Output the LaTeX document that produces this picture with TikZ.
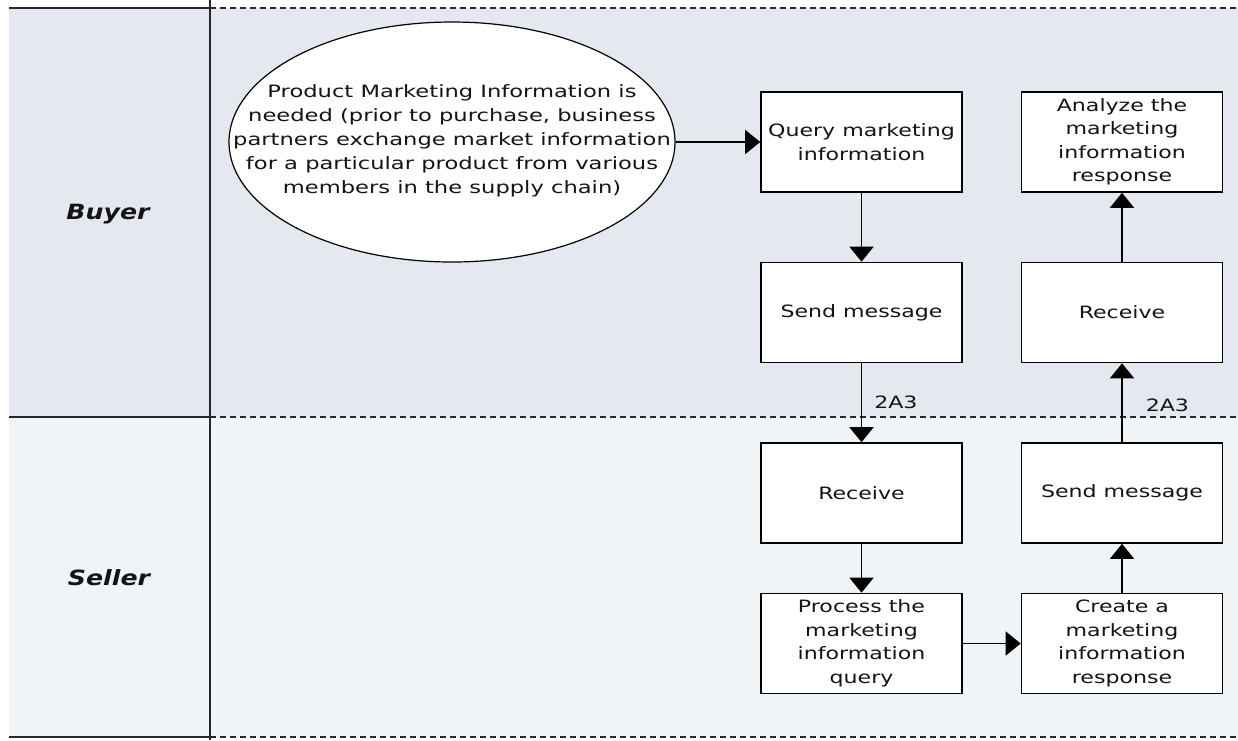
\documentclass[tikz,border=0pt]{standalone}
\usepackage{fontspec}
\usetikzlibrary{shapes.geometric,arrows.meta}
\newfontfamily\vfont[FakeStretch=1.3]{DejaVu Sans}
\newfontfamily\efont[FakeStretch=1.33]{DejaVu Sans}
\newfontfamily\lanefnt[FakeStretch=1.2]{DejaVu Sans}
\newcommand\boxfont{\vfont\fontsize{17}{23.5}\selectfont}
\newcommand\ellfont{\efont\fontsize{17}{24}\selectfont}
\definecolor{buyerbg}{RGB}{230,232,239}
\definecolor{sellerbg}{RGB}{240,244,247}
\definecolor{laneline}{RGB}{40,40,40}
\definecolor{ink}{RGB}{20,20,20}
\begin{document}
\begin{tikzpicture}[x=1pt,y=-1pt,
  box/.style={draw=black,line width=1.6pt,fill=white,minimum width=201pt,minimum height=100pt,inner sep=0pt,align=center,font=\boxfont,text=ink},
  arr/.style={draw=black,line width=1.6pt,-{Triangle[length=15pt,width=24pt]}},
  solidlane/.style={draw=laneline,line width=2pt},
  dashlane/.style={draw=laneline,line width=2pt,dash pattern=on 6pt off 4pt},
  lanelabel/.style={font=\lanefnt\bfseries\itshape\fontsize{21}{24}\selectfont,text=ink},
  msglabel/.style={font=\boxfont,text=ink,inner sep=0pt}]
\useasboundingbox (0,0) rectangle (1238,740);
% lanes
\fill[buyerbg] (9,8) rectangle (1238,417);
\fill[sellerbg] (9,417) rectangle (1238,737);
\draw[solidlane] (9,8) -- (210,8);
\draw[dashlane] (210,8) -- (1238,8);
\draw[solidlane] (9,417) -- (210,417);
\draw[dashlane] (210,417) -- (1238,417);
\draw[solidlane] (9,737) -- (210,737);
\draw[dashlane] (210,737) -- (1238,737);
\draw[solidlane] (210,0) -- (210,740);
\node[lanelabel] (buyer) at (108,214) {Buyer};
\node[lanelabel] (seller) at (109,578) {Seller};
% ellipse
\node[ellipse,draw=black,line width=1.2pt,fill=white,minimum width=446pt,minimum height=240pt,inner sep=0pt] (need) at (452,142) {};
\node[align=center,font=\ellfont,text=ink,inner sep=0pt] (needtext) at ([yshift=1.5pt]need.center)
  {Product Marketing Information is\\needed (prior to purchase, business\\partners exchange market information\\for a particular product from various\\members in the supply chain)};
% boxes
\node[box] (query) at (861.5,142) {Query marketing\\information};
\node[box] (send1) at (861.5,312.5) {Send message};
\node[box] (recv1) at (861.5,493) {Receive};
\node[box] (proc) at (861.5,643.5) {Process the\\marketing\\information\\query};
\node[box] (analyze) at (1122,142) {Analyze the\\marketing\\information\\response};
\node[box] (recv2) at (1122,312.5) {Receive};
\node[box] (send2) at (1122,493) {Send message};
\node[box] (create) at (1122,643.5) {Create a\\marketing\\information\\response};
% connectors
\draw[arr] (need.east) -- (query.west);
\draw[arr] (query) -- (send1);
\draw[arr] (send1) -- node[msglabel,right=12pt] (lab1) {2A3} (recv1);
\draw[arr] (recv1) -- (proc);
\draw[arr] (proc) -- (create);
\draw[arr] (create) -- (send2);
\draw[arr] (send2) -- node[msglabel,pos=0.47,right=23pt] (lab2) {2A3} (recv2);
\draw[arr] (recv2) -- (analyze);
\end{tikzpicture}
\end{document}
